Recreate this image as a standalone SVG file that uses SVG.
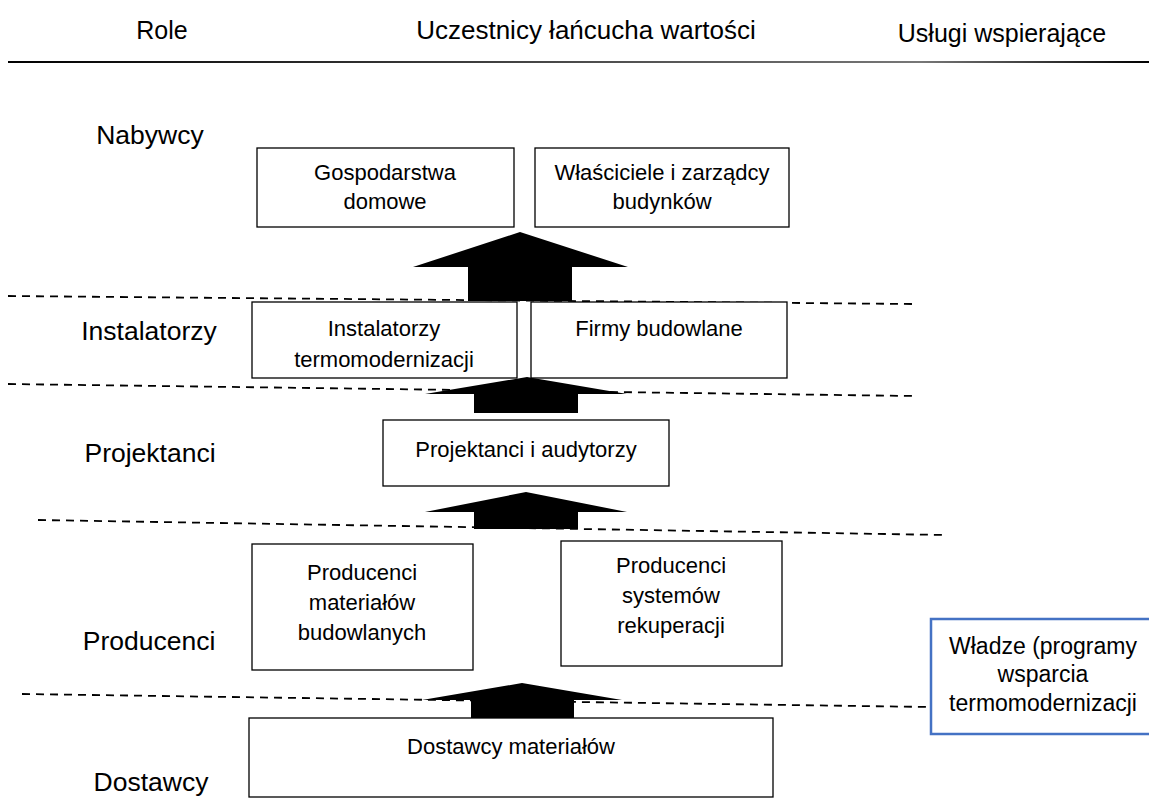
<svg xmlns="http://www.w3.org/2000/svg" width="1149" height="801" viewBox="0 0 1149 801">
<style>
text{font-family:"Liberation Sans","Noto Sans",Arial,sans-serif;fill:#000}
.hd{font-size:25px;text-anchor:middle}
.lb{font-size:26.5px;text-anchor:middle}
.bt{font-size:22px;text-anchor:middle}
.box{fill:#fff;stroke:#000;stroke-width:1.3}
.dash{stroke:#000;stroke-width:1.8;stroke-dasharray:8 6;fill:none}
.arr{fill:#000}
</style>
<defs>
<linearGradient id="hl" x1="0" y1="0" x2="1" y2="0">
<stop offset="0" stop-color="#000"/>
<stop offset="0.45" stop-color="#444"/>
<stop offset="0.8" stop-color="#777"/>
<stop offset="1" stop-color="#000"/>
</linearGradient>
</defs>
<rect width="1149" height="801" fill="#fff"/>
<g id="header">
<text class="hd" x="162" y="39">Role</text>
<text class="hd" x="586" y="39" style="font-size:26px">Uczestnicy łańcucha wartości</text>
<text class="hd" x="1002" y="42" style="font-size:25px">Usługi wspierające</text>
<rect x="8" y="61" width="1141" height="2" fill="url(#hl)"/>
</g>
<g id="connectors">
<line class="dash" x1="8" y1="296" x2="912" y2="304"/>
<line class="dash" x1="8" y1="384" x2="914" y2="396"/>
<line class="dash" x1="38" y1="520" x2="945" y2="535"/>
<line class="dash" x1="22" y1="694" x2="928" y2="707"/>
<polygon class="arr" points="413,267 520,232 628,267 572,267 572,301 468,301 468,267"/>
<polygon class="arr" points="425,394 527,377 627,394 578,394 578,413 474,413 474,394"/>
<polygon class="arr" points="425,512 526,492 627,512 578,512 578,529 474,529 474,512"/>
<polygon class="arr" points="422,700 522,683 622,700 574,700 574,718 471,718 471,700"/>
</g>
<g id="labels">
<text class="lb" x="150" y="144">Nabywcy</text>
<text class="lb" x="149" y="340">Instalatorzy</text>
<text class="lb" x="150" y="462">Projektanci</text>
<text class="lb" x="149" y="650">Producenci</text>
<text class="lb" x="151" y="791">Dostawcy</text>
</g>
<g id="gospodarstwa">
<rect class="box" x="257" y="148" width="257" height="79"/>
<text class="bt" x="385" y="180">Gospodarstwa</text>
<text class="bt" x="385" y="209">domowe</text>
</g>
<g id="wlasciciele">
<rect class="box" x="535" y="148" width="254" height="79"/>
<text class="bt" x="662" y="180">Właściciele i zarządcy</text>
<text class="bt" x="662" y="209">budynków</text>
</g>
<g id="instalatorzy">
<rect class="box" x="252" y="302" width="265" height="76"/>
<text class="bt" x="384" y="336">Instalatorzy</text>
<text class="bt" x="384" y="367">termomodernizacji</text>
</g>
<g id="firmy">
<rect class="box" x="531" y="302" width="256" height="76"/>
<text class="bt" x="659" y="336">Firmy budowlane</text>
</g>
<g id="projektanci">
<rect class="box" x="383" y="420" width="286" height="66"/>
<text class="bt" x="526" y="457">Projektanci i audytorzy</text>
</g>
<g id="producenci-materialow">
<rect class="box" x="252" y="544" width="221" height="126"/>
<text class="bt" x="362" y="580">Producenci</text>
<text class="bt" x="362" y="610">materiałów</text>
<text class="bt" x="362" y="640">budowlanych</text>
</g>
<g id="producenci-systemow">
<rect class="box" x="561" y="541" width="221" height="125"/>
<text class="bt" x="671" y="573">Producenci</text>
<text class="bt" x="671" y="603">systemów</text>
<text class="bt" x="671" y="633">rekuperacji</text>
</g>
<g id="dostawcy">
<rect class="box" x="249" y="718" width="524" height="79"/>
<text class="bt" x="511" y="754">Dostawcy materiałów</text>
</g>
<g id="wladze">
<rect x="931" y="619" width="230" height="115" fill="#fff" stroke="#4472C4" stroke-width="2.5"/>
<text class="bt" x="1043" y="654" style="font-size:23px">Władze (programy</text>
<text class="bt" x="1043" y="682" style="font-size:23px">wsparcia</text>
<text class="bt" x="1043" y="711" style="font-size:23px">termomodernizacji</text>
</g>
</svg>
